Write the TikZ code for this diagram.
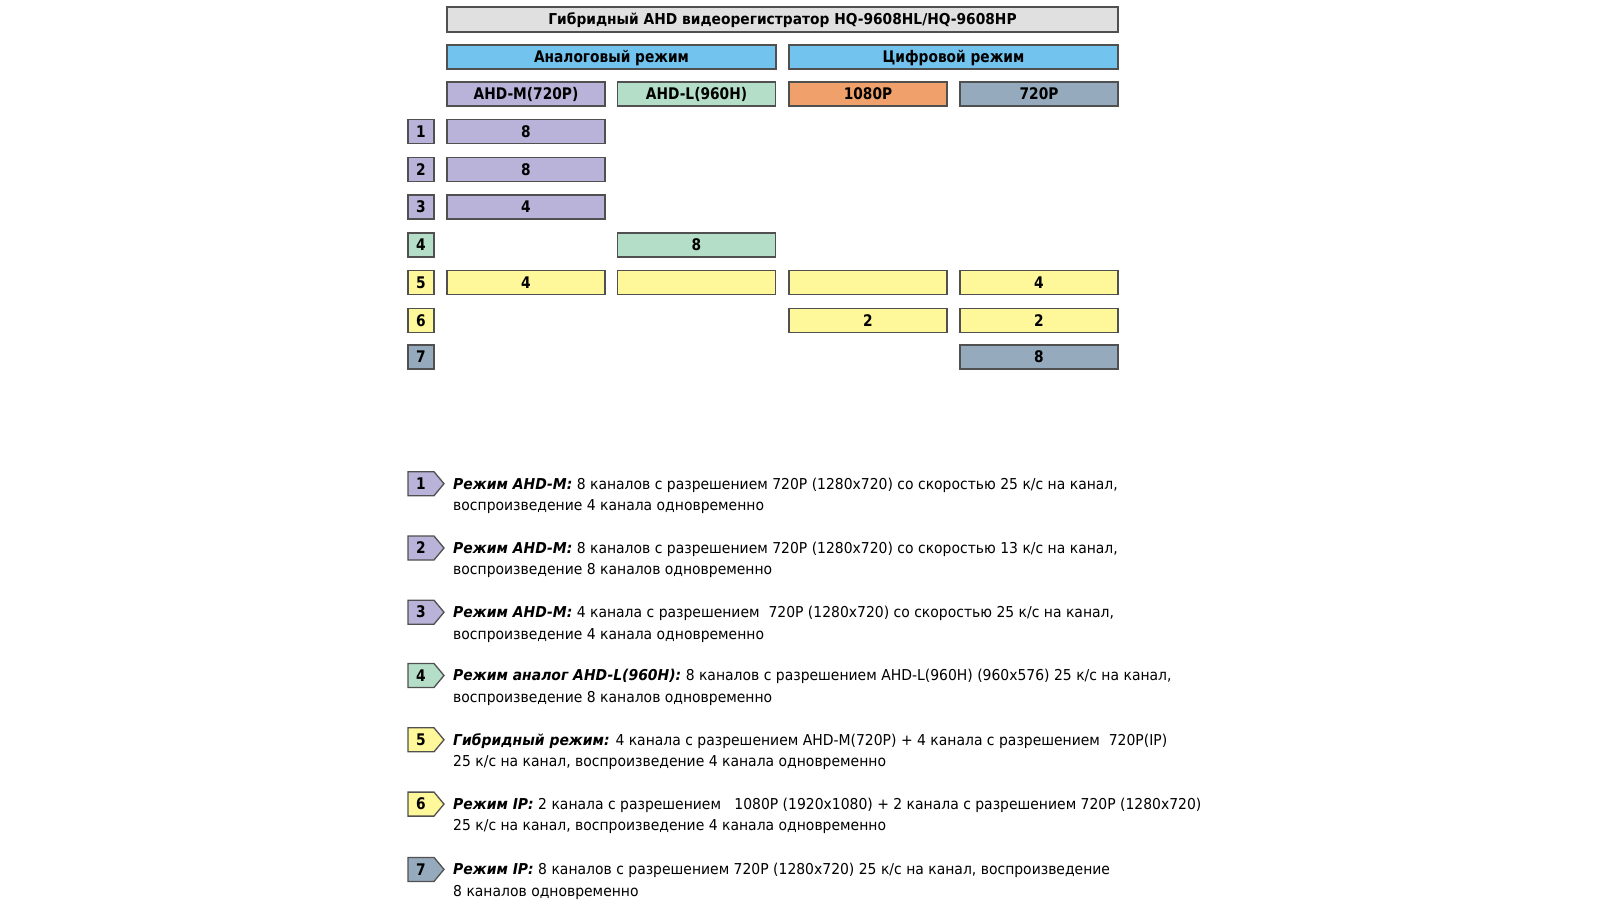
\documentclass[tikz,border=0pt]{standalone}
\usepackage{fontspec}
\setmainfont[FakeStretch=0.93]{DejaVu Sans}
\newfontfamily\boxfont[FakeStretch=0.86]{DejaVu Sans}
\newfontfamily\titlefont[FakeStretch=0.92]{DejaVu Sans}
\definecolor{cborder}{HTML}{505050}
\definecolor{cgray}{HTML}{E0E0E0}
\definecolor{cblue}{HTML}{72C3EE}
\definecolor{cpurple}{HTML}{B9B3D9}
\definecolor{cgreen}{HTML}{B5DEC8}
\definecolor{corange}{HTML}{F0A06A}
\definecolor{cslate}{HTML}{95AABD}
\definecolor{cyellow}{HTML}{FFF89A}
\begin{document}
\begin{tikzpicture}[x=1pt,y=-1pt,
  box/.style={draw=cborder, line width=1.3pt, minimum height=24pt, inner sep=0pt,
    text height=11.5pt, text depth=0pt,
    font=\boxfont\bfseries\fontsize{16}{18}\selectfont, text=black},
  colbox/.style={box, minimum width=158pt},
  numbox/.style={box, minimum width=26pt},
  marknum/.style={font=\boxfont\bfseries\fontsize{16}{18}\selectfont, inner sep=0pt, text height=11.5pt, text depth=0pt},
  legtext/.style={anchor=base west, inner sep=0pt, font=\fontsize{15}{18}\selectfont}]
\useasboundingbox (0,0) rectangle (1600,912);
% header
\node[box, fill=cgray, minimum width=671pt, minimum height=25pt, text height=10.8pt, font=\titlefont\bfseries\fontsize{15}{17}\selectfont] (title) at (782.5,19.5) {Гибридный AHD видеорегистратор HQ-9608HL/HQ-9608HP};
\node[box, fill=cblue, minimum width=329pt] (analog) at (611.5,57) {Аналоговый режим};
\node[box, fill=cblue, minimum width=329pt] (digital) at (953.5,57) {Цифровой режим};
\node[colbox, fill=cpurple] (ahdm) at (526,94) {AHD-M(720P)};
\node[colbox, fill=cgreen] (ahdl) at (696.5,94) {AHD-L(960H)};
\node[colbox, fill=corange] (r1080) at (868,94) {1080P};
\node[colbox, fill=cslate] (r720) at (1039,94) {720P};
% rows
\node[numbox, fill=cpurple] (n1) at (421,131.6) {1};
\node[numbox, fill=cpurple] (n2) at (421,169.4) {2};
\node[numbox, fill=cpurple] (n3) at (421,207.1) {3};
\node[numbox, fill=cgreen] (n4) at (421,244.9) {4};
\node[numbox, fill=cyellow] (n5) at (421,282.7) {5};
\node[numbox, fill=cyellow] (n6) at (421,320.4) {6};
\node[numbox, fill=cslate] (n7) at (421,357.1) {7};
\node[colbox, fill=cpurple] (b1a) at (526,131.6) {8};
\node[colbox, fill=cpurple] (b2a) at (526,169.4) {8};
\node[colbox, fill=cpurple] (b3a) at (526,207.1) {4};
\node[colbox, fill=cgreen] (b4b) at (696.5,244.9) {8};
\node[colbox, fill=cyellow] (b5a) at (526,282.7) {4};
\node[colbox, fill=cyellow] (b5b) at (696.5,282.7) {};
\node[colbox, fill=cyellow] (b5c) at (868,282.7) {};
\node[colbox, fill=cyellow] (b5d) at (1039,282.7) {4};
\node[colbox, fill=cyellow] (b6c) at (868,320.4) {2};
\node[colbox, fill=cyellow] (b6d) at (1039,320.4) {2};
\node[colbox, fill=cslate] (b7d) at (1039,357.1) {8};
% legend
\newcommand\legmark[4]{%
  \draw[draw=cborder, line width=1.3pt, fill=#3] (408,#2-12) -- (434,#2-12) -- (444,#2) -- (434,#2+12) -- (408,#2+12) -- cycle;
  \node[marknum] (#1) at (421,#2) {#4};}
\legmark{m1}{483.7}{cpurple}{1}
\legmark{m2}{548}{cpurple}{2}
\legmark{m3}{612.2}{cpurple}{3}
\legmark{m4}{675.5}{cgreen}{4}
\legmark{m5}{739.8}{cyellow}{5}
\legmark{m6}{804.1}{cyellow}{6}
\legmark{m7}{869.4}{cslate}{7}
\node[legtext] (t1a) at (453,489) {\textbf{\textit{Режим AHD-M:}} 8 каналов с разрешением 720P (1280x720) со скоростью 25 к/с на канал,};
\node[legtext] (t1b) at (453,510.5) {воспроизведение 4 канала одновременно};
\node[legtext] (t2a) at (453,553.3) {\textbf{\textit{Режим AHD-M:}} 8 каналов с разрешением 720P (1280x720) со скоростью 13 к/с на канал,};
\node[legtext] (t2b) at (453,574.8) {воспроизведение 8 каналов одновременно};
\node[legtext] (t3a) at (453,617.5) {\textbf{\textit{Режим AHD-M:}} 4 канала с разрешением\ \ 720P (1280x720) со скоростью 25 к/с на канал,};
\node[legtext] (t3b) at (453,639) {воспроизведение 4 канала одновременно};
\node[legtext] (t4a) at (453,680.8) {\textbf{\textit{Режим аналог AHD-L(960H):}} 8 каналов с разрешением AHD-L(960H) (960x576) 25 к/с на канал,};
\node[legtext] (t4b) at (453,702.3) {воспроизведение 8 каналов одновременно};
\node[legtext] (t5a) at (453,745.1) {\textbf{\textit{Гибридный режим:}} 4 канала с разрешением AHD-M(720P) + 4 канала с разрешением\ \ 720P(IP)};
\node[legtext] (t5b) at (453,766.6) {25 к/с на канал, воспроизведение 4 канала одновременно};
\node[legtext] (t6a) at (453,809.4) {\textbf{\textit{Режим IP:}} 2 канала с разрешением\ \ \ 1080P (1920x1080) + 2 канала с разрешением 720P (1280x720)};
\node[legtext] (t6b) at (453,830.9) {25 к/с на канал, воспроизведение 4 канала одновременно};
\node[legtext] (t7a) at (453,874.7) {\textbf{\textit{Режим IP:}} 8 каналов с разрешением 720P (1280x720) 25 к/с на канал, воспроизведение};
\node[legtext] (t7b) at (453,896.2) {8 каналов одновременно};
\end{tikzpicture}
\end{document}
